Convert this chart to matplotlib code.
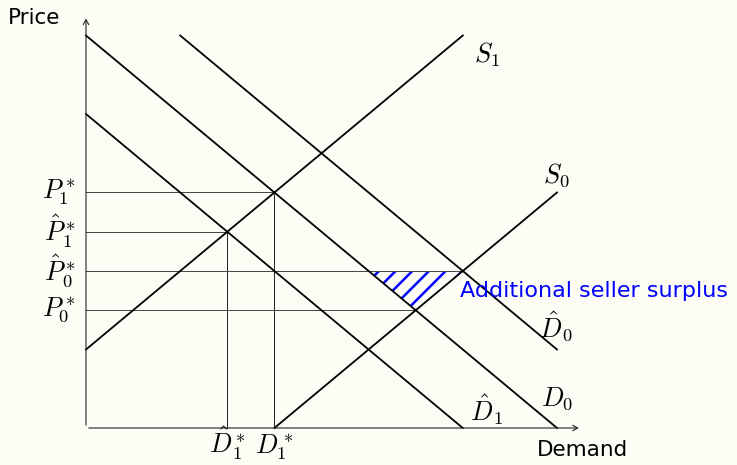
import matplotlib.pyplot as plt
from matplotlib.patches import Polygon

# curves as (x0, y0, x1, y1) in chart units
curves = {
    "D0": (0, 10, 10, 0),
    "D0hat": (2, 10, 10, 2),
    "D1hat": (0, 8, 8, 0),
    "S1": (0, 2, 8, 10),
    "S0": (4, 0, 10, 6),
}
# equilibria: (quantity, price)
eq_points = [(4, 6), (3, 5), (8, 4), (7, 3)]
price_labels = [r"$P_1^*$", r"$\hat{P}_1^*$", r"$\hat{P}_0^*$", r"$P_0^*$"]
qty_ticks = [3, 4]
qty_labels = [r"$\hat{D}_1^*$", r"$D_1^*$"]
surplus = [(6, 4), (8, 4), (7, 3)]

curve_labels = [
    (r"$S_1$", 8.51, 9.5),
    (r"$S_0$", 9.98, 6.45),
    (r"$\hat{D}_0$", 9.98, 2.57),
    (r"$D_0$", 10.0, 0.76),
    (r"$\hat{D}_1$", 8.51, 0.46),
]

plt.rcParams['mathtext.fontset'] = 'cm'
plt.rcParams['hatch.linewidth'] = 1.8
plt.rcParams['hatch.color'] = 'blue'
bg = '#fdfdf6'

fig = plt.figure(figsize=(7.37, 4.65), dpi=100, facecolor=bg)
ax = fig.add_axes([0, 0, 1, 1])
ax.set_facecolor(bg)
ax.set_xlim(-86 / 47.1, (737 - 86) / 47.1)
ax.set_ylim(-37 / 39.25, 428 / 39.25)
ax.axis('off')

# guide lines
for (q, p) in [(4, 6), (3, 5)]:
    ax.plot([0, q], [p, p], color='#444444', lw=0.7)
    ax.plot([q, q], [0, p], color='#222222', lw=0.7)
for (q, p) in [(8, 4), (7, 3)]:
    ax.plot([0, q], [p, p], color='#444444', lw=0.7)

# hatched area
ax.add_patch(Polygon(surplus, closed=True, facecolor='none', edgecolor='blue',
                     hatch='//', lw=0))

for key, (x0, y0, x1, y1) in curves.items():
    ax.plot([x0, x1], [y0, y1], color='black', lw=1.3)

# axes with arrows
ax.annotate('', xy=(0, 10.5), xytext=(0, 0),
            arrowprops=dict(arrowstyle='->,head_length=0.35,head_width=0.2',
                            color='#222222', lw=0.8))
ax.annotate('', xy=(10.52, 0), xytext=(0, 0),
            arrowprops=dict(arrowstyle='->,head_length=0.35,head_width=0.2',
                            color='#222222', lw=0.8))

ax.text(-1.1, 10.45, "Price", fontsize=15.5, ha='center', va='center')
ax.text(10.54, -0.56, "Demand", fontsize=15.5, ha='center', va='center')

for (q, p), lab in zip(eq_points, price_labels):
    ax.text(-0.22, p, lab, fontsize=19, ha='right', va='center')
for q, lab in zip(qty_ticks, qty_labels):
    ax.text(q, -0.64, lab, fontsize=19, ha='center', va='baseline')

for lab, x, y in curve_labels:
    ax.text(x, y, lab, fontsize=19, ha='center', va='center')

ax.text(7.94, 3.49, "Additional seller surplus", fontsize=16, color='blue',
        ha='left', va='center')

fig.savefig('out.png', dpi=100, facecolor=bg)
